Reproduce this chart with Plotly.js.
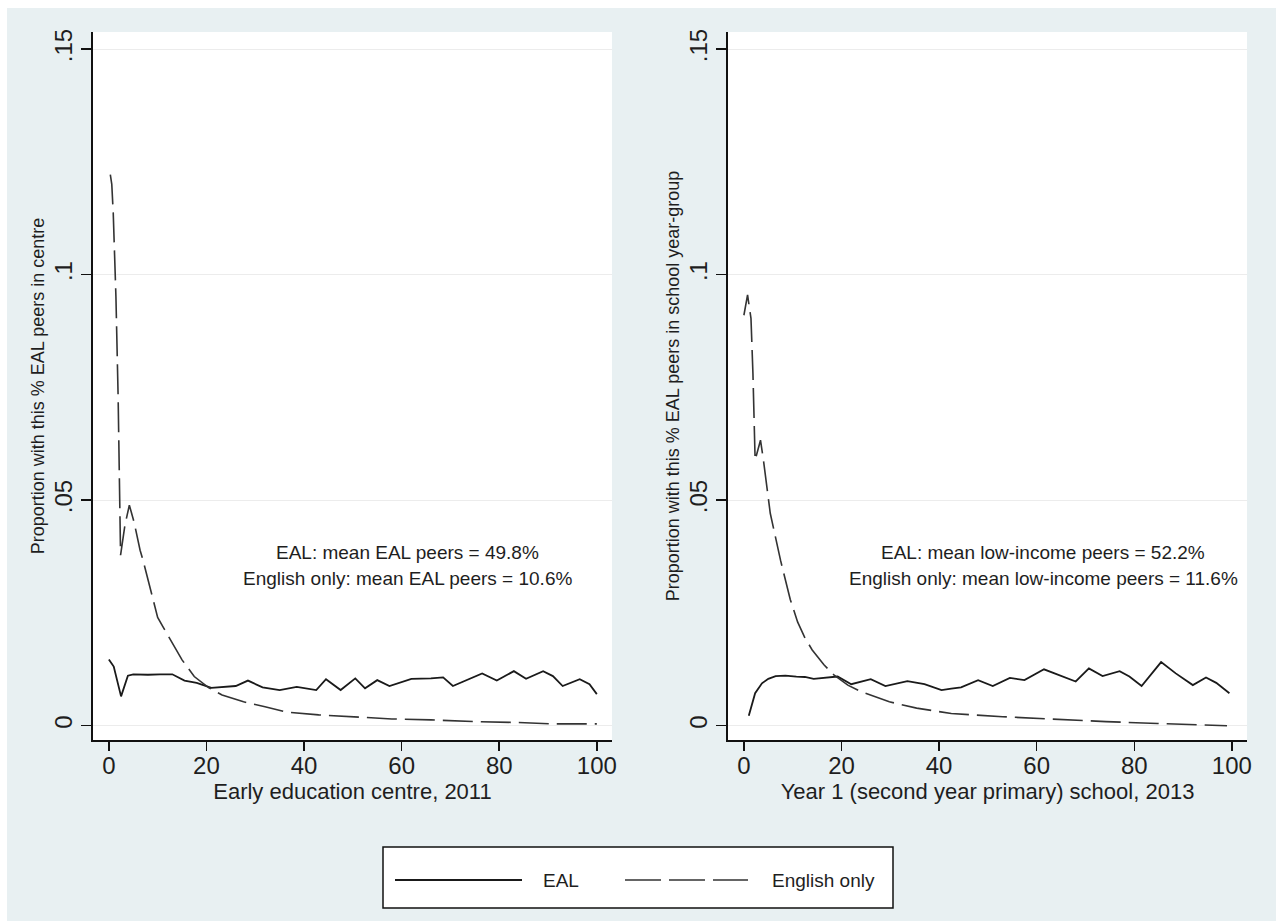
<!DOCTYPE html>
<html>
<head>
<meta charset="utf-8">
<script src="https://cdn.plot.ly/plotly-3.0.1.min.js"></script>
<style>
html, body { margin: 0; padding: 0; background: #ffffff; }
#chart { position: absolute; left: 7px; top: 8px; width: 1269px; height: 913px; }
</style>
</head>
<body>
<div id="chart"></div>
<script>
// ---------------- DATA ----------------
var seriesNames = ["EAL", "English only"];

// Left panel: Early education centre, 2011
var centreEalX = [0, 1, 2.5, 3.9, 5, 8, 10.5, 13, 15.5, 18, 21, 23.5, 26, 28.5, 31.5, 35, 38.5, 42.5, 44.5, 47.5, 50.5, 52.5, 55, 57.5, 62, 66, 68.5, 70.5, 74, 76.5, 79.5, 83, 85.5, 89, 91, 93, 96.5, 98.5, 100];
var centreEalY = [0.0147, 0.0131, 0.0065, 0.0111, 0.0114, 0.0113, 0.0114, 0.0114, 0.0100, 0.0095, 0.0084, 0.0086, 0.0088, 0.0100, 0.0085, 0.0079, 0.0086, 0.0079, 0.0103, 0.0079, 0.0105, 0.0083, 0.0101, 0.0088, 0.0104, 0.0105, 0.0107, 0.0088, 0.0105, 0.0116, 0.0100, 0.0121, 0.0104, 0.0121, 0.0110, 0.0088, 0.0103, 0.0092, 0.0070];

var centreEngX = [0.3, 0.6, 0.9, 1.45, 1.9, 2.1, 2.4, 3.3, 4.2, 5.2, 6.4, 7, 8.7, 10, 11.1, 13, 15, 17.5, 20.5, 23.2, 27.6, 32, 36.4, 43, 51, 58, 66, 75, 84, 91, 100];
var centreEngY = [0.1222, 0.1200, 0.1136, 0.0951, 0.0729, 0.0582, 0.0378, 0.0445, 0.0489, 0.0450, 0.0389, 0.0367, 0.0293, 0.0240, 0.0219, 0.0183, 0.0146, 0.0109, 0.0084, 0.0068, 0.0053, 0.0042, 0.0030, 0.0024, 0.0020, 0.0015, 0.0013, 0.0009, 0.0007, 0.0004, 0.0004];

// Right panel: Year 1 school, 2013
var schoolEalX = [1, 2.3, 3.7, 5, 6.5, 8.5, 10.75, 12.5, 14.3, 17, 19.2, 22, 24, 26, 29, 33.5, 37, 40.5, 42.5, 44.5, 48, 51, 54.5, 57.5, 61.5, 64.5, 68, 70.7, 73.5, 77, 79, 81.5, 85.5, 88.5, 92, 94.7, 96.8, 99.5];
var schoolEalY = [0.0022, 0.0072, 0.0094, 0.0104, 0.0110, 0.0111, 0.0109, 0.0108, 0.0104, 0.0106, 0.0109, 0.0092, 0.0097, 0.0103, 0.0088, 0.0099, 0.0092, 0.0079, 0.0082, 0.0085, 0.0101, 0.0088, 0.0106, 0.0101, 0.0125, 0.0112, 0.0098, 0.0127, 0.0110, 0.0121, 0.0109, 0.0088, 0.0141, 0.0116, 0.0090, 0.0107, 0.0095, 0.0072];

var schoolEngX = [0, 0.75, 1.45, 1.85, 2.3, 3.4, 4, 5.4, 7.5, 9.5, 11, 12.5, 14, 16.4, 18.5, 21.3, 24.1, 29.8, 35.4, 42.5, 53, 63.7, 74.2, 84.8, 93.3, 99];
var schoolEngY = [0.0910, 0.0955, 0.0903, 0.0781, 0.0589, 0.0633, 0.0589, 0.0471, 0.0367, 0.0280, 0.0230, 0.0195, 0.0168, 0.0135, 0.0112, 0.0090, 0.0075, 0.0053, 0.0039, 0.0027, 0.0020, 0.0014, 0.0009, 0.0005, 0.0003, 0.0000];

var xTickVals = [0, 20, 40, 60, 80, 100];
var yTickVals = [0, 0.05, 0.1, 0.15];
var yTickText = ["0", ".05", ".1", ".15"];

var centreNotes = ["EAL: mean EAL peers = 49.8%", "English only: mean EAL peers = 10.6%"];
var schoolNotes = ["EAL: mean low-income peers = 52.2%", "English only: mean low-income peers = 11.6%"];
var noteX = 61.3;
var noteY = [0.0383, 0.0327];

// ---------------- STYLE ----------------
var FONT = "Liberation Sans, Arial, Helvetica, sans-serif";
var TXT = "#1e1e1e";
var BG = "#e8f0f2";
var solidLine = { color: "#1a1a1a", width: 1.8, dash: "solid" };
var dashLine = { color: "#333333", width: 1.6, dash: "30px,8px" };

function tr(x, y, name, line, xa, ya) {
  return { x: x, y: y, type: "scatter", mode: "lines", name: name, line: line,
           xaxis: xa, yaxis: ya, showlegend: false, hoverinfo: "skip" };
}

var data = [
  tr(centreEalX, centreEalY, seriesNames[0], solidLine, "x", "y"),
  tr(centreEngX, centreEngY, seriesNames[1], dashLine, "x", "y"),
  tr(schoolEalX, schoolEalY, seriesNames[0], solidLine, "x2", "y2"),
  tr(schoolEngX, schoolEngY, seriesNames[1], dashLine, "x2", "y2")
];

function xAxis(domain, anchor, title) {
  return {
    domain: domain, anchor: anchor, range: [-3.25, 103.1],
    tickmode: "array", tickvals: xTickVals, ticks: "outside", ticklen: 9, tickwidth: 1.5, tickcolor: "#111",
    ticklabelstandoff: -6,
    showline: true, linecolor: "#111", linewidth: 1.8, showgrid: false, zeroline: false,
    tickfont: { family: FONT, size: 24, color: TXT },
    title: { text: title, font: { family: FONT, size: 22, color: TXT }, standoff: 2 },
    fixedrange: true
  };
}
function yAxis(anchor, title) {
  return {
    domain: [0, 1], anchor: anchor, range: [-0.00317, 0.1538],
    tickmode: "array", tickvals: yTickVals, ticktext: yTickText, tickangle: -90,
    ticks: "outside", ticklen: 10, tickwidth: 1.5, tickcolor: "#111",
    showline: true, linecolor: "#111", linewidth: 1.8,
    showgrid: true, gridcolor: "#ececec", gridwidth: 1, zeroline: false,
    tickfont: { family: FONT, size: 24, color: TXT },
    title: { text: title, font: { family: FONT, size: 18, color: TXT }, standoff: 0 },
    fixedrange: true
  };
}

// plot-area geometry (pixels inside the div) used for the hand-made legend box
var PL = 86, PT = 24, PW = 1154, PH = 708;
function px2x(px) { return (px - PL) / PW; }
function px2y(py) { return (PT + PH - py) / PH; }

var legTop = 839, legBot = 900, legMid = 872;
var shapes = [
  { type: "rect", xref: "paper", yref: "paper", x0: px2x(376), x1: px2x(886), y0: px2y(legBot), y1: px2y(legTop),
    fillcolor: "#ffffff", line: { color: "#111", width: 1.5 }, layer: "below" },
  { type: "line", xref: "paper", yref: "paper", x0: px2x(388), x1: px2x(515), y0: px2y(legMid), y1: px2y(legMid),
    line: solidLine },
  { type: "line", xref: "paper", yref: "paper", x0: px2x(618), x1: px2x(741), y0: px2y(legMid), y1: px2y(legMid),
    line: { color: dashLine.color, width: dashLine.width, dash: "36px,8px" } }
];

var annotations = [];
function note(xr, yr, text, y) {
  annotations.push({ xref: xr, yref: yr, x: noteX, y: y, text: text, showarrow: false,
    xanchor: "center", yanchor: "middle", font: { family: FONT, size: 19, color: TXT } });
}
note("x", "y", centreNotes[0], noteY[0]);
note("x", "y", centreNotes[1], noteY[1]);
note("x2", "y2", schoolNotes[0], noteY[0]);
note("x2", "y2", schoolNotes[1], noteY[1]);
annotations.push({ xref: "paper", yref: "paper", x: px2x(534), y: px2y(legMid), text: seriesNames[0],
  showarrow: false, xanchor: "left", yanchor: "middle", font: { family: FONT, size: 19, color: TXT } });
annotations.push({ xref: "paper", yref: "paper", x: px2x(763), y: px2y(legMid), text: seriesNames[1],
  showarrow: false, xanchor: "left", yanchor: "middle", font: { family: FONT, size: 19, color: TXT } });

var layout = {
  width: 1269, height: 913,
  margin: { l: PL, r: 1269 - PL - PW, t: PT, b: 913 - PT - PH, pad: 0 },
  paper_bgcolor: BG, plot_bgcolor: "#ffffff",
  showlegend: false,
  font: { family: FONT, color: TXT },
  xaxis: xAxis([0, 0.4497], "y", "Early education centre, 2011"),
  yaxis: yAxis("x", "Proportion with this % EAL peers in centre"),
  xaxis2: xAxis([0.5503, 1], "y2", "Year 1 (second year primary) school, 2013"),
  yaxis2: yAxis("x2", "Proportion with this % EAL peers in school year-group"),
  shapes: shapes,
  annotations: annotations
};

Plotly.newPlot("chart", data, layout, { displayModeBar: false, staticPlot: true });
</script>
</body>
</html>
